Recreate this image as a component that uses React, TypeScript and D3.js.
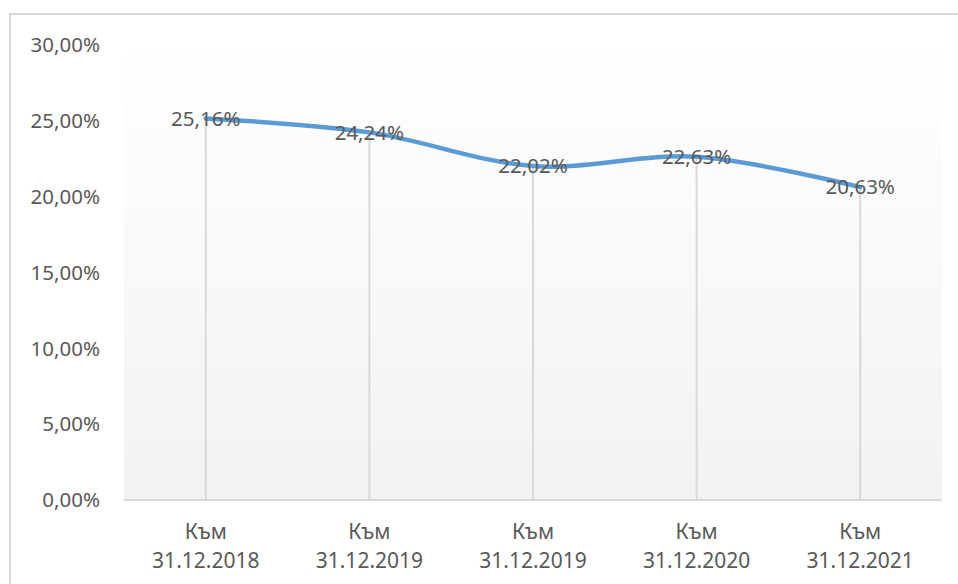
import React from 'react';
import * as d3 from 'd3';

const categories = ['Към 31.12.2018', 'Към 31.12.2019', 'Към 31.12.2019', 'Към 31.12.2020', 'Към 31.12.2021'];
const values = [25.16, 24.24, 22.02, 22.63, 20.63];
const yTicks = [0, 5, 10, 15, 20, 25, 30];

const W = 958;
const H = 584;
const margin = { top: 45, right: 16, bottom: 84, left: 124 };
const font = '"Noto Sans", sans-serif';
const textColor = '#595959';

const fmt = (v: number) => v.toFixed(2).replace('.', ',') + '%';

const App = () => {
  const x = d3.scaleBand<number>()
    .domain(categories.map((_, i) => i))
    .range([margin.left, W - margin.right]);
  const y = d3.scaleLinear().domain([0, 30]).range([H - margin.bottom, margin.top]);

  const cx = (i: number) => (x(i) as number) + x.bandwidth() / 2;

  const line = d3.line<number>()
    .x((_, i) => cx(i))
    .y(d => y(d))
    .curve(d3.curveCatmullRom.alpha(0.5));

  return (
    <svg width={W} height={H} style={{ position: 'absolute', left: 0, top: 0 }}>
      <defs>
        <linearGradient id="plotbg" x1="0" y1="0" x2="0" y2="1">
          <stop offset="0%" stopColor="#ffffff" />
          <stop offset="100%" stopColor="#f2f2f2" />
        </linearGradient>
      </defs>
      <rect x={0} y={0} width={W} height={H} fill="#fff" />
      {/* outer frame, cut off at right and bottom */}
      <rect x={10} y={14} width={W + 20} height={H + 20} fill="none" stroke="#d9d9d9" strokeWidth={2} />

      <rect x={margin.left} y={y(30)} width={W - margin.right - margin.left} height={y(0) - y(30)} fill="url(#plotbg)" />

      {/* drop lines */}
      {values.map((v, i) => (
        <line key={i} x1={cx(i)} x2={cx(i)} y1={y(v)} y2={y(0)} stroke="#d9d9d9" strokeWidth={2} />
      ))}

      {/* x axis line */}
      <line x1={margin.left} x2={W - margin.right} y1={y(0)} y2={y(0)} stroke="#d9d9d9" strokeWidth={2} />

      {/* y tick labels */}
      {yTicks.map(t => (
        <text key={t} x={100} y={y(t)} dy="0.35em" textAnchor="end" fontFamily={font} fontSize={20.5} fill={textColor}>
          {fmt(t)}
        </text>
      ))}

      {/* x labels */}
      {categories.map((c, i) => {
        const parts = c.split(' ');
        return (
          <text key={i} x={cx(i)} textAnchor="middle" fontFamily={font} fontSize={21} fill={textColor}>
            <tspan x={cx(i)} y={532} dy="0.35em">{parts[0]}</tspan>
            <tspan x={cx(i)} y={561} dy="0.35em">{parts[1]}</tspan>
          </text>
        );
      })}

      <path d={line(values) || ''} fill="none" stroke="#5b9bd5" strokeWidth={4.5} strokeLinecap="round" strokeLinejoin="round" />

      {/* data labels */}
      {values.map((v, i) => (
        <text key={i} x={cx(i)} y={y(v)} dy="0.35em" textAnchor="middle" fontFamily={font} fontSize={20.5} fill={textColor}>
          {fmt(v)}
        </text>
      ))}
    </svg>
  );
};

export default App;
